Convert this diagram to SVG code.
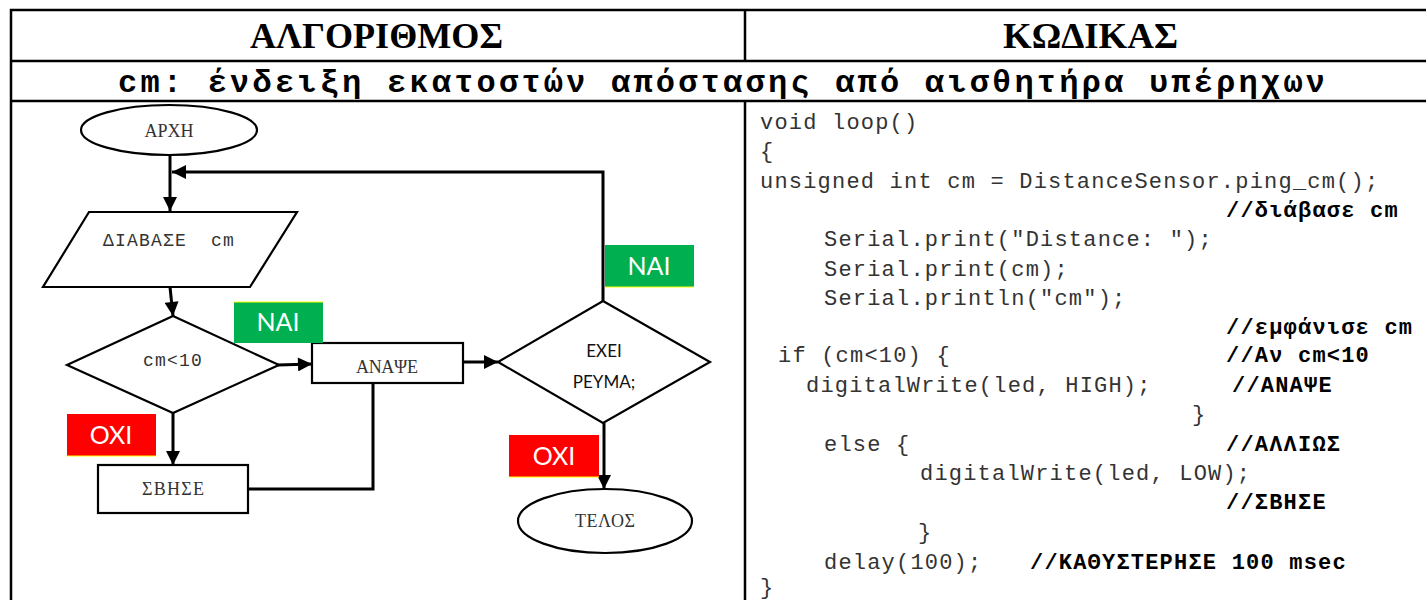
<svg xmlns="http://www.w3.org/2000/svg" width="1426" height="600" viewBox="0 0 1426 600">
  <style>
    .grid { stroke: #000; stroke-width: 2.5; fill: none; }
    .head { font-family: "Liberation Serif", "DejaVu Serif", serif; font-weight: bold; fill: #000; }
    .sub { font-family: "Liberation Mono", "DejaVu Sans Mono", monospace; font-weight: bold; fill: #000; }
    .shape { fill: #fff; stroke: #000; stroke-width: 2.2; }
    .ftext { font-family: "Liberation Mono", "DejaVu Sans Mono", monospace; font-size: 18px; letter-spacing: 1.2px; fill: #333; text-anchor: middle; }
    .gtext { font-family: "Liberation Serif", "DejaVu Serif", serif; font-size: 18px; fill: #333; text-anchor: middle; }
    .stext { font-family: "Lato", "Open Sans", "Liberation Sans", sans-serif; font-size: 17px; fill: #111; text-anchor: middle; }
    .tag { font-family: "Lato", "Open Sans", "Liberation Sans", sans-serif; font-size: 25px; fill: #fff; text-anchor: middle; }
    .wire { fill: none; stroke: #000; stroke-width: 3; }
    .code { font-family: "Liberation Mono", "DejaVu Sans Mono", monospace; font-size: 22px; letter-spacing: 1.2px; fill: #333; white-space: pre; }
    .cmt { font-family: "Liberation Mono", "DejaVu Sans Mono", monospace; font-size: 22px; letter-spacing: 1.2px; font-weight: bold; fill: #000; white-space: pre; }
  </style>
  <defs>
    <marker id="arrow" viewBox="0 0 10 10" refX="10" refY="5" markerWidth="15" markerHeight="14" markerUnits="userSpaceOnUse" orient="auto">
      <path d="M0,0 L10,5 L0,10 z" fill="#000"/>
    </marker>
  </defs>

  <rect width="1426" height="600" fill="#fff"/>

  <!-- table frame -->
  <g id="table">
    <path class="grid" d="M11,600 V10 H1426 M11,61 H1426 M11,101 H1426 M745,10 V61 M745,101 V600"/>
    <text class="head" x="250" y="48" font-size="35" textLength="253" lengthAdjust="spacingAndGlyphs">ΑΛΓΟΡΙΘΜΟΣ</text>
    <text class="head" x="1003" y="48" font-size="35" textLength="175" lengthAdjust="spacingAndGlyphs">ΚΩΔΙΚΑΣ</text>
    <text class="sub" x="118" y="92" font-size="32" textLength="1207" lengthAdjust="spacing">cm: ένδειξη εκατοστών απόστασης από αισθητήρα υπέρηχων</text>
  </g>

  <!-- connectors -->
  <g id="connectors">
    <path class="wire" d="M170,155 L170,211" marker-end="url(#arrow)"/>
    <path class="wire" d="M603,301 L603,172 L172,172" marker-end="url(#arrow)"/>
    <path class="wire" d="M170,287 L173,316" marker-end="url(#arrow)"/>
    <path class="wire" d="M278,365 L312,364" marker-end="url(#arrow)"/>
    <path class="wire" d="M173,413 L173,465" marker-end="url(#arrow)"/>
    <path class="wire" d="M248,489 L373,489 L373,362 L498,362" marker-end="url(#arrow)"/>
    <path class="wire" d="M604,423 L604,489" marker-end="url(#arrow)"/>
  </g>

  <!-- flowchart nodes -->
  <g id="start">
    <ellipse class="shape" cx="169" cy="130" rx="88" ry="25"/>
    <text class="gtext" x="169" y="137" textLength="49" lengthAdjust="spacing">ΑΡΧΗ</text>
  </g>

  <g id="read">
    <polygon class="shape" points="89,212 297,212 250,287 43,287"/>
    <text class="ftext" x="169" y="246" xml:space="preserve">ΔΙΑΒΑΣΕ  cm</text>
  </g>

  <g id="cond">
    <polygon class="shape" points="173,316 279,365 173,413 67,365"/>
    <text class="ftext" x="173" y="366">cm&lt;10</text>
  </g>

  <g id="on">
    <rect class="shape" x="312" y="343" width="151" height="40"/>
    <text class="gtext" x="387" y="373" textLength="62" lengthAdjust="spacing">ΑΝΑΨΕ</text>
  </g>

  <g id="off">
    <rect class="shape" x="98" y="465" width="150" height="48"/>
    <text class="gtext" x="173" y="495" textLength="62" lengthAdjust="spacing">ΣΒΗΣΕ</text>
  </g>

  <g id="power">
    <polygon class="shape" points="603,301 710,362 603,423 498,362"/>
    <text class="stext" x="604" y="357">ΕΧΕΙ</text>
    <text class="stext" x="604" y="388">ΡΕΥΜΑ;</text>
  </g>

  <g id="end">
    <ellipse class="shape" cx="605" cy="521" rx="87" ry="32"/>
    <text class="gtext" x="605" y="527" textLength="60" lengthAdjust="spacing">ΤΕΛΟΣ</text>
  </g>

  <!-- branch tags -->
  <g id="tag-yes-1">
    <rect x="234" y="302" width="89" height="41" fill="#00B050"/>
    <line x1="234" y1="302" x2="323" y2="302" stroke="#FFFF00" stroke-width="1"/>
    <text class="tag" x="278" y="331">ΝΑΙ</text>
  </g>
  <g id="tag-yes-2">
    <rect x="605" y="245" width="89" height="42" fill="#00B050"/>
    <line x1="605" y1="287" x2="694" y2="287" stroke="#FFFF00" stroke-width="1"/>
    <text class="tag" x="649" y="275">ΝΑΙ</text>
  </g>
  <g id="tag-no-1">
    <rect x="67" y="414" width="89" height="42" fill="#FF0000"/>
    <line x1="67" y1="456" x2="156" y2="456" stroke="#FFFF00" stroke-width="1"/>
    <text class="tag" x="111" y="444">ΟΧΙ</text>
  </g>
  <g id="tag-no-2">
    <rect x="509" y="435" width="90" height="42" fill="#FF0000"/>
    <line x1="509" y1="477" x2="599" y2="477" stroke="#FFFF00" stroke-width="1"/>
    <text class="tag" x="554" y="465">ΟΧΙ</text>
  </g>

  <!-- source listing -->
  <g id="code">
    <text class="code" x="760" y="129">void loop()</text>
    <text class="code" x="760" y="158">{</text>
    <text class="code" x="760" y="188">unsigned int cm = DistanceSensor.ping_cm();</text>
    <text class="cmt" x="1226" y="217">//διάβασε cm</text>
    <text class="code" x="824" y="246">Serial.print("Distance: ");</text>
    <text class="code" x="824" y="276">Serial.print(cm);</text>
    <text class="code" x="824" y="305">Serial.println("cm");</text>
    <text class="cmt" x="1226" y="334">//εμφάνισε cm</text>
    <text class="code" x="778" y="362">if (cm&lt;10) {</text>
    <text class="cmt" x="1226" y="362">//Αν cm&lt;10</text>
    <text class="code" x="806" y="392">digitalWrite(led, HIGH);</text>
    <text class="cmt" x="1232" y="392">//ΑΝΑΨΕ</text>
    <text class="code" x="1192" y="421">}</text>
    <text class="code" x="824" y="451">else {</text>
    <text class="cmt" x="1226" y="451">//ΑΛΛΙΩΣ</text>
    <text class="code" x="920" y="480">digitalWrite(led, LOW);</text>
    <text class="cmt" x="1226" y="509">//ΣΒΗΣΕ</text>
    <text class="code" x="918" y="539">}</text>
    <text class="code" x="824" y="569">delay(100);</text>
    <text class="cmt" x="1030" y="569">//ΚΑΘΥΣΤΕΡΗΣΕ 100 msec</text>
    <text class="code" x="760" y="594">}</text>
  </g>
</svg>
